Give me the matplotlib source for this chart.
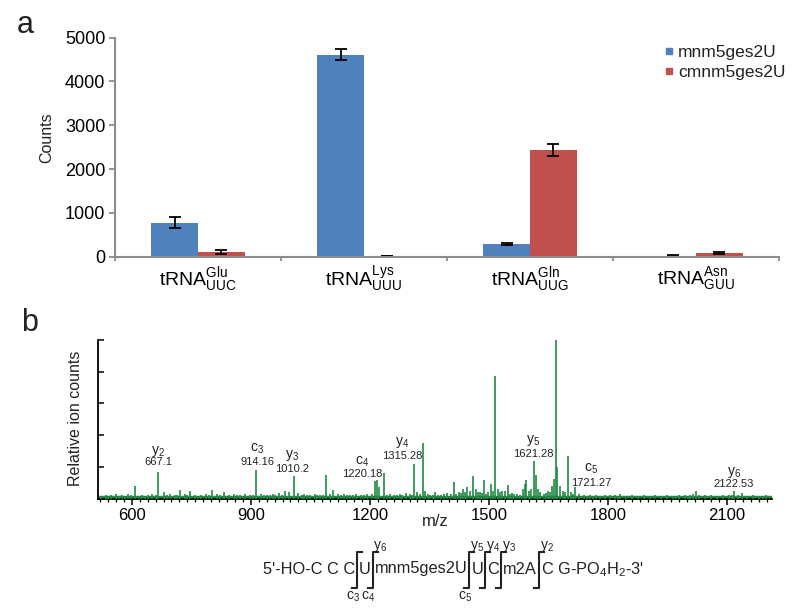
import matplotlib
matplotlib.use('Agg')
import matplotlib.pyplot as plt
from matplotlib.transforms import IdentityTransform
from matplotlib.lines import Line2D
from matplotlib.ticker import MultipleLocator
import numpy as np

plt.rcParams['font.family'] = ['Liberation Sans', 'DejaVu Sans']
plt.rcParams['mathtext.fontset'] = 'custom'
plt.rcParams['mathtext.rm'] = 'Liberation Sans'
plt.rcParams['mathtext.it'] = 'Liberation Sans:italic'
plt.rcParams['mathtext.bf'] = 'Liberation Sans:bold'
plt.rcParams['text.color'] = '#222222'

# ---------------- data: panel a ----------------
trna_names = ['Glu', 'Lys', 'Gln', 'Asn']
anticodons = ['UUC', 'UUU', 'UUG', 'GUU']
series_names = ['mnm5ges2U', 'cmnm5ges2U']
mnm_counts = [775, 4610, 297, 20]
mnm_err = [130, 130, 20, 10]
cmnm_counts = [110, 10, 2440, 85]
cmnm_err = [40, 0, 140, 15]
count_ticks = [0, 1000, 2000, 3000, 4000, 5000]

# ---------------- data: panel b ----------------
peak_mz = [522, 535, 541, 548, 560, 568, 575, 582, 590, 598, 608, 617, 625, 632, 640, 652,
           660, 667, 680, 688, 695, 708, 715, 722, 735, 740, 747, 760, 768, 775, 788, 795,
           802, 815, 822, 833, 845, 858, 865, 872, 885, 898, 905, 913, 925, 932, 940, 948,
           955, 962, 970, 978, 985, 995, 1008, 1020, 1028, 1035, 1042, 1050, 1062, 1068,
           1075, 1082, 1089, 1100, 1107, 1120, 1128, 1135, 1142, 1150, 1158, 1165, 1178,
           1185, 1192, 1205, 1214, 1219, 1224, 1236, 1243, 1250, 1262, 1268, 1275, 1282,
           1290, 1300, 1306, 1312, 1320, 1326, 1333, 1340, 1346, 1352, 1358, 1365, 1372,
           1380, 1387, 1395, 1405, 1412, 1418, 1425, 1430, 1435, 1440, 1445, 1452, 1460,
           1468, 1473, 1478, 1483, 1487, 1492, 1497, 1505, 1510, 1516, 1523, 1528, 1532,
           1540, 1548, 1553, 1558, 1564, 1570, 1578, 1585, 1590, 1594, 1602, 1607, 1613,
           1619, 1625, 1630, 1640, 1645, 1650, 1655, 1660, 1665, 1669, 1673, 1680, 1688,
           1693, 1699, 1706, 1712, 1717, 1728, 1740, 1748, 1755, 1762, 1770, 1780, 1793,
           1805, 1818, 1825, 1831, 1845, 1860, 1875, 1890, 1905, 1920, 1935, 1950, 1965,
           1973, 1980, 1995, 2001, 2008, 2015, 2021, 2030, 2045, 2060, 2075, 2090, 2105,
           2112, 2119, 2128, 2138, 2150, 2165, 2180, 2190, 2198]
peak_int = [0.015, 0.02, 0.015, 0.025, 0.03, 0.015, 0.02, 0.015, 0.03, 0.02, 0.08, 0.015,
            0.02, 0.015, 0.025, 0.03, 0.02, 0.17, 0.04, 0.02, 0.03, 0.025, 0.02, 0.055,
            0.03, 0.02, 0.05, 0.02, 0.015, 0.025, 0.03, 0.02, 0.055, 0.03, 0.02, 0.04,
            0.025, 0.03, 0.02, 0.02, 0.03, 0.025, 0.02, 0.18, 0.03, 0.02, 0.025, 0.02,
            0.03, 0.02, 0.035, 0.025, 0.045, 0.04, 0.145, 0.035, 0.02, 0.03, 0.02, 0.025,
            0.03, 0.02, 0.02, 0.025, 0.15, 0.03, 0.055, 0.03, 0.02, 0.03, 0.02, 0.025,
            0.02, 0.03, 0.02, 0.025, 0.03, 0.03, 0.11, 0.115, 0.07, 0.16, 0.025, 0.03,
            0.025, 0.02, 0.03, 0.025, 0.035, 0.03, 0.025, 0.22, 0.04, 0.03, 0.35, 0.05,
            0.03, 0.025, 0.02, 0.04, 0.025, 0.025, 0.03, 0.035, 0.03, 0.107, 0.03, 0.04,
            0.035, 0.06, 0.04, 0.07, 0.05, 0.14, 0.06, 0.04, 0.04, 0.035, 0.114, 0.03,
            0.04, 0.09, 0.05, 0.77, 0.06, 0.04, 0.05, 0.045, 0.088, 0.03, 0.035, 0.03,
            0.03, 0.025, 0.06, 0.09, 0.114, 0.05, 0.06, 0.234, 0.15, 0.06, 0.04, 0.03,
            0.035, 0.05, 0.04, 0.08, 0.12, 1.0, 0.2, 0.08, 0.05, 0.04, 0.266, 0.04, 0.03,
            0.07, 0.03, 0.025, 0.015, 0.02, 0.015, 0.02, 0.015, 0.025, 0.02, 0.025, 0.015,
            0.03, 0.015, 0.02, 0.015, 0.02, 0.015, 0.02, 0.015, 0.02, 0.015, 0.015, 0.025,
            0.02, 0.015, 0.025, 0.03, 0.045, 0.025, 0.02, 0.02, 0.015, 0.02, 0.02, 0.02,
            0.045, 0.02, 0.035, 0.015, 0.02, 0.015, 0.015, 0.025]
baseline_level = 0.008
mz_ticks = [600, 900, 1200, 1500, 1800, 2100]

ion_names = ['y$_2$', 'c$_3$', 'y$_3$', 'c$_4$', 'y$_4$', 'y$_5$', 'c$_5$', 'y$_6$']
ion_values = ['667.1', '914.16', '1010.2', '1220.18', '1315.28', '1621.28', '1721.27', '2122.53']
# label anchor positions (m/z, relative height of name / of value)
ion_lab_x = [667, 916, 1005, 1180, 1281, 1612, 1758, 2118]
ion_lab_y = [0.297, 0.316, 0.272, 0.234, 0.354, 0.367, 0.19, 0.165]
ion_val_y = [0.228, 0.228, 0.184, 0.152, 0.266, 0.278, 0.095, 0.089]

seq_parts = ["5'-HO-C C C", "U", "mnm5ges2U", "U", "C", "m2A", "C G-PO$_4$H$_2$-3'"]
cut_top = [None, 'y$_6$', 'y$_5$', 'y$_4$', 'y$_3$', 'y$_2$']
cut_bottom = ['c$_3$', 'c$_4$', 'c$_5$', None, None, None]

BLUE = '#4F81BD'
RED = '#C0504D'
GREEN = '#1f8a42'
GRAY = '#8c8c8c'

W, H = 800, 608
fig = plt.figure(figsize=(W / 100, H / 100), dpi=100)

# ================= panel a =================
axA = fig.add_axes([115 / W, 1 - 256.7 / H, 664 / W, 219 / H])
x = np.arange(len(trna_names))
bw = 0.283
ekw = dict(ecolor='black', elinewidth=1.3, capthick=1.3)
axA.bar(x - bw / 2, mnm_counts, bw, yerr=mnm_err, capsize=4, color=BLUE,
        error_kw=ekw, label=series_names[0])
axA.bar(x + bw / 2, cmnm_counts, bw, yerr=cmnm_err, capsize=4, color=RED,
        error_kw=ekw, label=series_names[1])
axA.set_xlim(-0.5, len(trna_names) - 0.5)
axA.set_ylim(0, 5000)
axA.set_yticks(count_ticks)
axA.tick_params(axis='y', direction='out', length=4, color=GRAY, width=1.3,
                labelsize=13, pad=3)
axA.set_xticks(np.arange(len(trna_names) + 1) - 0.5)
axA.set_xticklabels([])
axA.tick_params(axis='x', which='major', direction='out', length=3, color=GRAY, width=1.3)
axA.set_xticks(x, minor=True)
axA.set_xticklabels([r'tRNA$^{\mathrm{%s}}_{\mathrm{%s}}$' % (n, a)
                     for n, a in zip(trna_names, anticodons)], minor=True)
axA.tick_params(axis='x', which='minor', length=0, labelsize=14, pad=6)
for s in ['top', 'right']:
    axA.spines[s].set_visible(False)
for s in ['left', 'bottom']:
    axA.spines[s].set_color(GRAY)
    axA.spines[s].set_linewidth(1.5)
handles = [Line2D([], [], ls='', marker='s', markersize=5, color=BLUE),
           Line2D([], [], ls='', marker='s', markersize=5, color=RED)]
axA.legend(handles, series_names, loc='upper left', frameon=False, fontsize=12.5,
           bbox_to_anchor=(652 / W, 1 - 36 / H), bbox_transform=fig.transFigure,
           handletextpad=0.0, labelspacing=0.3, handlelength=1.0, borderpad=0)
fig.text(47 / W, 1 - 138 / H, 'Counts', rotation=90, ha='center', va='center', fontsize=11.5)
fig.text(25 / W, 1 - 25 / H, 'a', ha='center', va='center', fontsize=22)

# ================= panel b =================
axB = fig.add_axes([97.7 / W, 1 - 498.5 / H, 674 / W, 158.5 / H])
axB.axhline(baseline_level, color=GREEN, lw=2.5, zorder=2)
axB.vlines(peak_mz, 0, peak_int, color=GREEN, lw=1.2, zorder=3, clip_on=False)
axB.set_xlim(514, 2213)
axB.set_ylim(0, 1.0)
axB.set_xticks(mz_ticks)
axB.xaxis.set_minor_locator(MultipleLocator(20))
axB.tick_params(axis='x', which='major', direction='out', length=4, width=1.1,
                labelsize=12, pad=3)
axB.tick_params(axis='x', which='minor', direction='out', length=2.5, width=0.9)
axB.set_yticks([0, 0.2, 0.4, 0.6, 0.8, 1.0])
axB.set_yticklabels([])
axB.tick_params(axis='y', direction='in', length=4, width=1.1)
for s in ['top', 'right']:
    axB.spines[s].set_visible(False)
for s in ['left', 'bottom']:
    axB.spines[s].set_color('black')
    axB.spines[s].set_linewidth(1.3)
for nm, val, lx, ly, vy in zip(ion_names, ion_values, ion_lab_x, ion_lab_y, ion_val_y):
    axB.text(lx, ly, nm, ha='center', va='center', fontsize=10)
    axB.text(lx, vy, val, ha='center', va='center', fontsize=8)
fig.text(435 / W, 1 - 522 / H, 'm/z', ha='center', va='center', fontsize=12)
fig.text(75 / W, 1 - 418 / H, 'Relative ion counts', rotation=90, ha='center',
         va='center', fontsize=11.5)
fig.text(30 / W, 1 - 323 / H, 'b', ha='center', va='center', fontsize=22)

# ================= sequence scheme =================
fig.canvas.draw()
r = fig.canvas.get_renderer()
T = IdentityTransform()
SEQ_Y = H - 569
TOP = H - 552
BOT = H - 588
fs_seq = 11.8


def put(xp, yp, s, fs, ha='left', va='center'):
    return fig.text(xp, yp, s, transform=T, fontsize=fs, ha=ha, va=va)


def width(t):
    return t.get_window_extent(r).width


xc = 263
gap = 1.5
for i, part in enumerate(seq_parts):
    t = put(xc, SEQ_Y, part, fs_seq, va='baseline' if '$' in part else 'center')
    if '$' in part:
        t.set_y(SEQ_Y - 5)
    xc += width(t)
    if i < len(cut_top):
        xm = xc + gap
        fig.add_artist(Line2D([xm + 5, xm, xm, xm - 5], [TOP, TOP, BOT, BOT],
                              transform=T, color='#222222', lw=1.5))
        if cut_top[i]:
            put(xm + 8, H - 546, cut_top[i], 10, ha='center')
        if cut_bottom[i]:
            put(xm - 4, H - 597, cut_bottom[i], 10, ha='center')
        xc = xm + gap + 1

fig.savefig('out.png', dpi=100)
